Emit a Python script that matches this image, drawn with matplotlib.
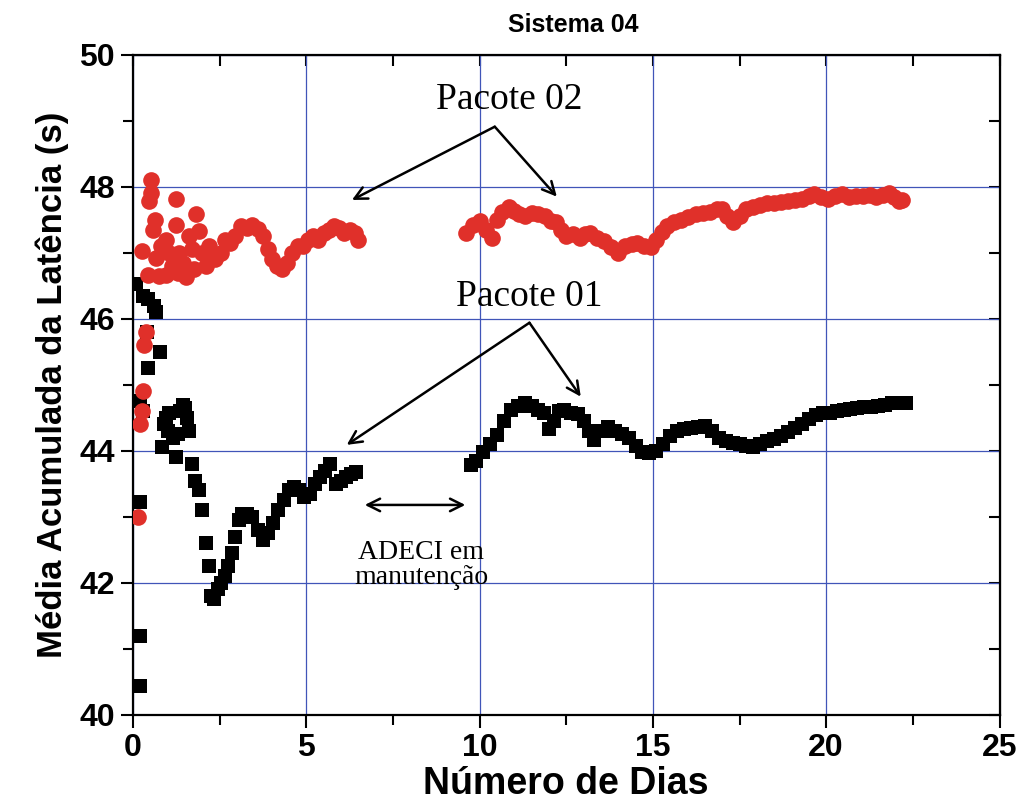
import matplotlib
matplotlib.use("Agg")
import matplotlib.pyplot as plt
import numpy as np

# Pacote 02 (red circles), before and after the maintenance gap
p02_x1 = [0.15, 0.2, 0.25, 0.3, 0.33, 0.38, 0.25, 0.43, 0.53, 0.53, 0.48, 1.24, 0.63,
          1.81, 0.58, 1.24, 0.96, 1.62, 1.9, 0.67, 1.34, 2.19, 0.96, 1.53, 2.1, 1.14,
          2.38, 0.8, 1.05, 1.45, 1.7, 2.0, 0.75, 1.3, 1.75, 2.55, 2.67, 2.8, 2.95, 3.13,
          3.3, 3.45, 3.6, 3.75, 3.9, 4.0, 4.15, 4.3, 4.45, 4.6, 4.75, 4.9, 5.05, 5.2,
          5.35, 5.5, 5.65, 5.8, 5.95, 6.1, 6.25, 6.4, 6.5]
p02_y1 = [43.0, 44.4, 44.6, 44.9, 45.6, 45.8, 47.02, 46.67, 48.1, 47.9, 47.78, 47.82,
          47.5, 47.58, 47.35, 47.42, 47.2, 47.25, 47.33, 46.92, 47.0, 47.1, 46.67, 46.64,
          46.8, 46.8, 46.9, 47.1, 47.0, 46.85, 47.05, 47.0, 46.65, 46.7, 46.75, 47.0,
          47.2, 47.15, 47.25, 47.4, 47.38, 47.42, 47.36, 47.25, 47.05, 46.9, 46.8, 46.75,
          46.85, 47.0, 47.1, 47.1, 47.2, 47.25, 47.2, 47.3, 47.35, 47.4, 47.38, 47.3,
          47.35, 47.3, 47.2]
p02_x2 = [9.6, 9.8, 10.0, 10.2, 10.35, 10.5, 10.65, 10.85, 11.0, 11.15, 11.3, 11.5, 11.7,
          11.9, 12.05, 12.2, 12.35, 12.5, 12.7, 12.9, 13.05, 13.2, 13.4, 13.6, 13.8, 14.0,
          14.2, 14.4, 14.55, 14.75, 14.95, 15.1, 15.25, 15.4, 15.6, 15.8, 16.0, 16.25,
          16.45, 16.65, 16.85, 17.0, 17.15, 17.3, 17.5, 17.7, 17.9, 18.1, 18.3, 18.5, 18.7,
          18.9, 19.1, 19.3, 19.5, 19.65, 19.85, 20.05, 20.25, 20.45, 20.65, 20.85, 21.05,
          21.25, 21.45, 21.65, 21.8, 21.95, 22.1, 22.2]
p02_y2 = [47.30, 47.42, 47.48, 47.35, 47.22, 47.50, 47.62, 47.70, 47.64, 47.58, 47.56,
          47.60, 47.58, 47.55, 47.48, 47.46, 47.35, 47.26, 47.28, 47.22, 47.28, 47.30,
          47.22, 47.18, 47.08, 47.00, 47.10, 47.14, 47.15, 47.10, 47.08, 47.20, 47.32,
          47.40, 47.46, 47.50, 47.54, 47.58, 47.60, 47.62, 47.66, 47.66, 47.55, 47.46,
          47.56, 47.66, 47.70, 47.72, 47.75, 47.76, 47.77, 47.79, 47.80, 47.82, 47.86,
          47.89, 47.85, 47.81, 47.86, 47.89, 47.84, 47.86, 47.86, 47.88, 47.85, 47.88,
          47.90, 47.84, 47.79, 47.80]

# Pacote 01 (black squares)
p01_x1 = [0.1, 0.3, 0.45, 0.6, 0.67, 0.4, 0.77, 0.43, 0.2, 0.3, 0.2, 0.2, 0.2,
          0.85, 0.9, 0.95, 1.0, 1.05, 1.15, 1.25, 1.3, 1.35, 1.45, 1.5, 1.55, 1.62, 1.7,
          1.8, 1.9, 2.0, 2.1, 2.2, 2.25, 2.35, 2.45, 2.55, 2.65, 2.75, 2.85, 2.95, 3.05,
          3.15, 3.3, 3.45, 3.6, 3.75, 3.9, 4.05, 4.2, 4.35, 4.5, 4.65, 4.8, 4.95, 5.1,
          5.25, 5.4, 5.55, 5.7, 5.85, 6.0, 6.15, 6.3, 6.45]
p01_y1 = [46.52, 46.35, 46.3, 46.2, 46.1, 45.8, 45.5, 45.26, 44.75, 44.6, 43.23, 41.19,
          40.43, 44.06, 44.4, 44.5, 44.3, 44.58, 44.2, 43.9, 44.25, 44.6, 44.7, 44.65,
          44.5, 44.3, 43.8, 43.55, 43.4, 43.1, 42.6, 42.25, 41.8, 41.75, 41.9, 42.0,
          42.1, 42.25, 42.45, 42.7, 42.95, 43.05, 43.05, 43.0, 42.8, 42.65, 42.75, 42.9,
          43.1, 43.25, 43.4, 43.45, 43.4, 43.3, 43.35, 43.5, 43.6, 43.7, 43.8, 43.5,
          43.55, 43.6, 43.65, 43.68]
p01_x2 = [9.74, 9.9, 10.1, 10.3, 10.5, 10.7, 10.9, 11.1, 11.3, 11.5, 11.7, 11.85, 12.0,
          12.15, 12.3, 12.45, 12.65, 12.85, 13.0, 13.15, 13.3, 13.5, 13.7, 13.9, 14.1,
          14.3, 14.5, 14.7, 14.9, 15.1, 15.3, 15.5, 15.7, 15.9, 16.1, 16.3, 16.5, 16.7,
          16.9, 17.1, 17.3, 17.5, 17.7, 17.9, 18.1, 18.3, 18.5, 18.7, 18.9, 19.1, 19.3,
          19.5, 19.7, 19.9, 20.1, 20.3, 20.5, 20.7, 20.9, 21.1, 21.3, 21.5, 21.7, 21.9,
          22.1, 22.3]
p01_y2 = [43.78, 43.85, 43.98, 44.1, 44.24, 44.45, 44.62, 44.68, 44.72, 44.68, 44.62,
          44.57, 44.33, 44.45, 44.60, 44.62, 44.58, 44.56, 44.45, 44.30, 44.17, 44.30,
          44.36, 44.30, 44.25, 44.20, 44.08, 43.98, 43.97, 44.0, 44.10, 44.22, 44.30,
          44.33, 44.35, 44.36, 44.38, 44.30, 44.20, 44.15, 44.12, 44.10, 44.08, 44.06,
          44.10, 44.15, 44.18, 44.22, 44.28, 44.34, 44.40, 44.48, 44.54, 44.57, 44.58,
          44.60, 44.62, 44.64, 44.65, 44.66, 44.66, 44.68, 44.70, 44.72, 44.72, 44.72]

red = "#e0302a"
grid_blue = "#4055b8"
sans = "Liberation Sans"
serif = "Liberation Serif"

fig = plt.figure(figsize=(10.22, 8.05), dpi=100)
ax = fig.add_axes([0.130, 0.112, 0.848, 0.820])

ax.plot(p01_x1 + p01_x2, p01_y1 + p01_y2, "s", color="black", markersize=10.5,
        markeredgewidth=0, zorder=3)
ax.plot(p02_x1 + p02_x2, p02_y1 + p02_y2, "o", color=red, markersize=12,
        markeredgewidth=0, zorder=4)

ax.set_xlim(0, 25)
ax.set_ylim(40, 50)
ax.set_xticks([0, 5, 10, 15, 20, 25])
ax.set_xticks([2.5, 7.5, 12.5, 17.5, 22.5], minor=True)
ax.set_yticks([40, 42, 44, 46, 48, 50])
ax.set_yticks([41, 43, 45, 47, 49], minor=True)
ax.grid(True, which="major", color=grid_blue, linewidth=0.9)
ax.set_axisbelow(True)

for s in ax.spines.values():
    s.set_linewidth(1.6)

ax.tick_params(which="major", direction="out", length=9, width=1.5, pad=4,
               top=False, right=False)
ax.tick_params(which="minor", direction="out", length=7, width=1.5,
               top=False, right=False)
for lab in ax.get_xticklabels() + ax.get_yticklabels():
    lab.set_fontfamily(sans)
    lab.set_fontweight("bold")
    lab.set_fontsize(23)

# inward ticks on top and right
top = ax.secondary_xaxis("top")
top.set_xticks([0, 5, 10, 15, 20, 25])
top.set_xticks([2.5, 7.5, 12.5, 17.5, 22.5], minor=True)
top.tick_params(which="both", direction="in", length=8, width=1.5, labeltop=False)
right = ax.secondary_yaxis("right")
right.set_yticks([40, 42, 44, 46, 48, 50])
right.set_yticks([41, 43, 45, 47, 49], minor=True)
right.tick_params(which="both", direction="in", length=8, width=1.5, labelright=False)

ax.set_xlabel("Número de Dias", fontfamily=sans, fontweight="bold", fontsize=27,
              labelpad=2)
ax.set_ylabel("Média Acumulada da Latência (s)", fontfamily=sans, fontweight="bold",
              fontsize=25, labelpad=7)
fig.text(0.561, 0.969, "Sistema 04", ha="center", va="center", fontfamily=sans,
         fontweight="bold", fontsize=18)

arrow = dict(arrowstyle="->,head_length=0.9,head_width=0.45", color="black", lw=1.8,
             shrinkA=0, shrinkB=0)

ax.text(10.87, 49.32, "Pacote 02", ha="center", va="center", fontfamily=serif,
        fontsize=27)
ax.annotate("", xy=(6.32, 47.8), xytext=(10.44, 48.91), arrowprops=arrow)
ax.annotate("", xy=(12.23, 47.85), xytext=(10.44, 48.91), arrowprops=arrow)

ax.text(11.44, 46.33, "Pacote 01", ha="center", va="center", fontfamily=serif,
        fontsize=27)
ax.annotate("", xy=(6.17, 44.09), xytext=(11.44, 45.94), arrowprops=arrow)
ax.annotate("", xy=(12.92, 44.82), xytext=(11.44, 45.94), arrowprops=arrow)

ax.annotate("", xy=(6.69, 43.18), xytext=(9.59, 43.18),
            arrowprops=dict(arrowstyle="<->,head_length=0.9,head_width=0.45",
                            color="black", lw=1.8, shrinkA=0, shrinkB=0))
ax.text(8.31, 42.27, "ADECI em\nmanutenção", ha="center", va="center",
        fontfamily=serif, fontsize=20, linespacing=1.05)

fig.savefig("out.png", dpi=100)
